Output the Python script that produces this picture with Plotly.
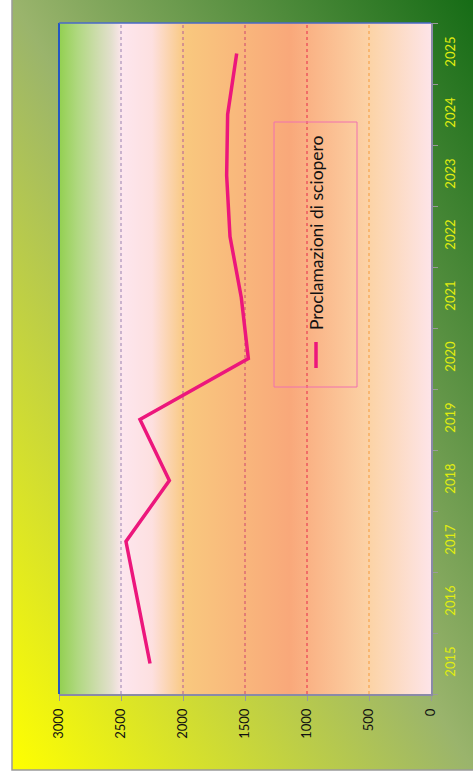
import base64
import plotly.graph_objects as go

# ---- data ----
years = ["2015", "2016", "2017", "2018", "2019", "2020", "2021", "2022", "2023", "2024", "2025"]
proclamazioni = [2266, 2360, 2460, 2110, 2347, 1473, 1530, 1621, 1648, 1640, 1567]
series_name = "Proclamazioni di sciopero"
value_ticks = [0, 500, 1000, 1500, 2000, 2500, 3000]
grid_values = [500, 1000, 1500, 2000, 2500]
grid_colors = ["#f59a3a", "#e8284a", "#cc4470", "#b05a98", "#9a80b0"]

W, H = 473, 779
ML, MR, MT, MB = 59, 42, 23, 85
PW, PH = W - ML - MR, H - MT - MB


def px_x(p):
    return (p - ML) / PW


def px_y(p):
    return (H - MB - p) / PH


def svg_uri(svg):
    return "data:image/svg+xml;base64," + base64.b64encode(svg.encode()).decode()


outer_svg = (
    '<svg xmlns="http://www.w3.org/2000/svg" width="461" height="770" viewBox="0 0 461 770" '
    'preserveAspectRatio="none"><defs><linearGradient id="g" x1="0" y1="1" x2="1" y2="0">'
    '<stop offset="0" stop-color="#ffff00"/><stop offset="0.5" stop-color="#9ab46c"/>'
    '<stop offset="1" stop-color="#166c16"/></linearGradient></defs>'
    '<rect width="461" height="770" fill="url(#g)"/></svg>'
)

plot_svg = (
    '<svg xmlns="http://www.w3.org/2000/svg" width="372" height="671" viewBox="0 0 372 671" '
    'preserveAspectRatio="none"><defs><linearGradient id="p" x1="0" y1="0" x2="1" y2="0">'
    '<stop offset="0" stop-color="#92d050"/>'
    '<stop offset="0.05" stop-color="#b0d880"/>'
    '<stop offset="0.14" stop-color="#e2dfcc"/>'
    '<stop offset="0.17" stop-color="#fde6ee"/>'
    '<stop offset="0.25" stop-color="#fde0e0"/>'
    '<stop offset="0.34" stop-color="#f9c87e"/>'
    '<stop offset="0.62" stop-color="#f9a87a"/>'
    '<stop offset="0.84" stop-color="#fcd4a8"/>'
    '<stop offset="1" stop-color="#fde4e8"/>'
    '</linearGradient></defs><rect width="372" height="671" fill="url(#p)"/></svg>'
)

fig = go.Figure()
fig.add_trace(go.Scatter(
    x=proclamazioni, y=years, mode="lines", name=series_name,
    line=dict(color="#ec177c", width=3.5), showlegend=False, hoverinfo="skip",
))

images = [
    dict(source=svg_uri(outer_svg), xref="paper", yref="paper",
         x=px_x(12), y=px_y(0), sizex=461 / PW, sizey=770 / PH,
         sizing="stretch", xanchor="left", yanchor="top", layer="below"),
    dict(source=svg_uri(plot_svg), xref="paper", yref="paper",
         x=0, y=1, sizex=1, sizey=1,
         sizing="stretch", xanchor="left", yanchor="top", layer="below"),
]

shapes = []
for v, c in zip(grid_values, grid_colors):
    shapes.append(dict(type="line", xref="x", yref="paper", x0=v, x1=v, y0=0, y1=1,
                       line=dict(color=c, width=1, dash="dot"), layer="below"))
# plot area borders (left & top)
shapes.append(dict(type="line", xref="paper", yref="paper", x0=0, x1=0, y0=0, y1=1,
                   line=dict(color="#2458c0", width=2)))
shapes.append(dict(type="line", xref="paper", yref="paper", x0=0, x1=1, y0=1, y1=1,
                   line=dict(color="#4a6ac8", width=1.5)))
# outer chart border
shapes.append(dict(type="rect", xref="paper", yref="paper",
                   x0=px_x(12), x1=px_x(480), y0=px_y(770), y1=px_y(-5),
                   line=dict(color="#9a9a9a", width=1.5), fillcolor="rgba(0,0,0,0)", layer="below"))
# legend box and line sample
shapes.append(dict(type="rect", xref="paper", yref="paper",
                   x0=px_x(274), x1=px_x(357), y0=px_y(387), y1=px_y(122),
                   line=dict(color="#f070b0", width=1), fillcolor="rgba(0,0,0,0)"))
shapes.append(dict(type="line", xref="paper", yref="paper",
                   x0=px_x(316), x1=px_x(316), y0=px_y(368), y1=px_y(342),
                   line=dict(color="#ec177c", width=3.5)))

annotations = [
    dict(text=series_name, xref="paper", yref="paper", x=px_x(316), y=px_y(233),
         xanchor="center", yanchor="middle", textangle=-90, showarrow=False,
         font=dict(family="Lato", size=17.5, color="#111111")),
]

fig.update_layout(
    width=W, height=H,
    margin=dict(l=ML, r=MR, t=MT, b=MB, pad=0),
    paper_bgcolor="white",
    plot_bgcolor="rgba(0,0,0,0)",
    images=images, shapes=shapes, annotations=annotations,
    showlegend=False,
    hovermode=False,
    xaxis=dict(
        range=[3000, 0], tickvals=value_ticks, ticktext=[str(v) for v in value_ticks],
        tickangle=-90, showgrid=False, zeroline=False,
        showline=True, linecolor="#8a8aa8", linewidth=1.5,
        ticks="outside", ticklen=5, tickcolor="#9a9a9a", tickwidth=1,
        tickfont=dict(family="Lato", size=13, color="#111111"),
        ticklabelstandoff=3,
    ),
    yaxis=dict(
        type="category", categoryorder="array", categoryarray=years,
        range=[-0.5, len(years) - 0.5], side="right",
        tickangle=-90, showgrid=False, zeroline=False,
        showline=True, linecolor="#8a8aa8", linewidth=1.5,
        ticks="outside", ticklen=5, tickcolor="#9a9a9a", tickwidth=1,
        tickson="boundaries",
        tickfont=dict(family="Lato", size=13, color="#e0ec10"),
        ticklabelstandoff=7,
    ),
)

fig.write_html(
    "out.html",
    config={"displayModeBar": False, "staticPlot": True},
    post_script="document.body.style.margin='0';document.body.style.overflow='hidden';",
)
